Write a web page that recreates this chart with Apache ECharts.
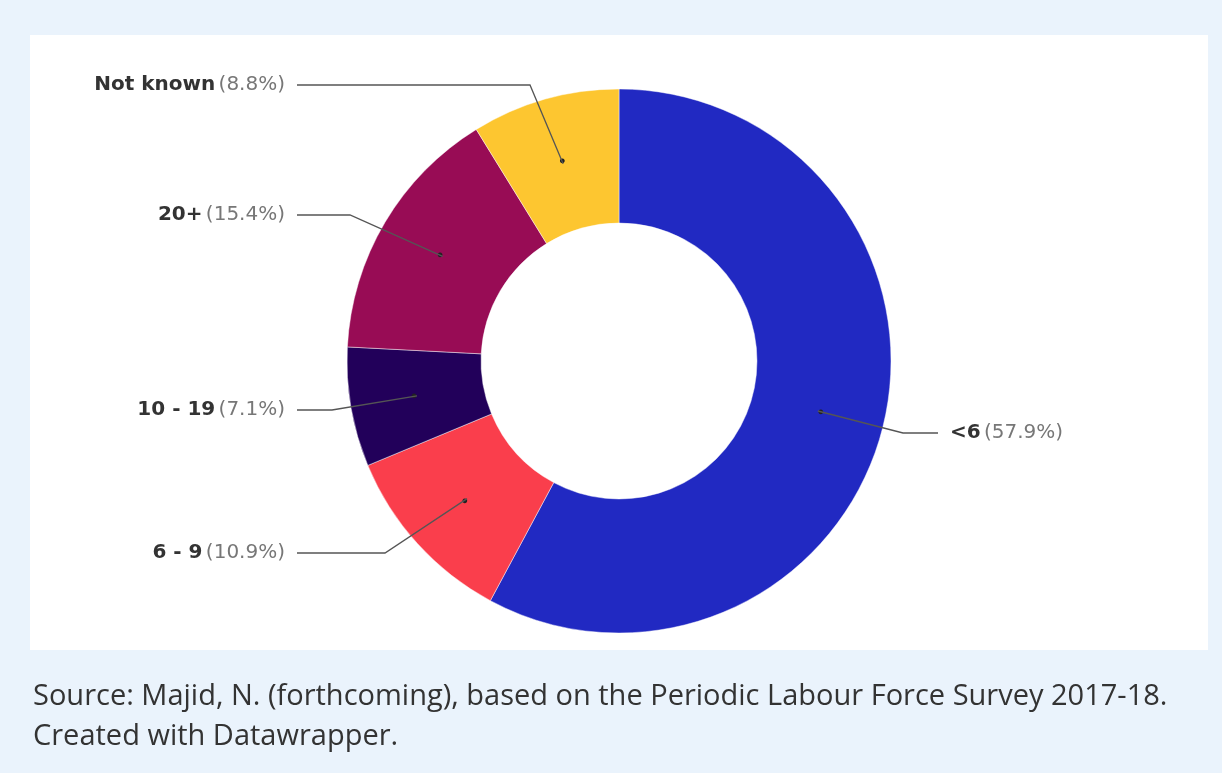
<!DOCTYPE html>
<html>
<head>
<meta charset="utf-8">
<script src="https://cdn.jsdelivr.net/npm/echarts@6/dist/echarts.min.js"></script>
<style>
  html, body { margin: 0; padding: 0; background: #eaf3fc; }
  #chart { width: 1222px; height: 773px; }
</style>
</head>
<body>
<div id="chart"></div>
<script>
const categories = ["<6", "6 - 9", "10 - 19", "20+", "Not known"];
const shares = [57.9, 10.9, 7.1, 15.4, 8.8];
const colors = ["#2129c2", "#fa3e4c", "#22005a", "#980c55", "#fdc630"];
const sourceLines = [
  "Source: Majid, N. (forthcoming), based on the Periodic Labour Force Survey 2017-18.",
  "Created with Datawrapper.",
];

// label placement: anchor of text, where the line ends, elbow point
const labelSpots = [
  { x: 950, y: 433, align: "left", lineEnd: 938, elbowX: 903 },
  { x: 285, y: 553, align: "right", lineEnd: 297, elbowX: 385 },
  { x: 285, y: 410, align: "right", lineEnd: 297, elbowX: 332 },
  { x: 285, y: 215, align: "right", lineEnd: 297, elbowX: 350 },
  { x: 285, y: 85, align: "right", lineEnd: 297, elbowX: 530 },
];

const cx = 619;
const cy = 361;
const innerR = 138;
const outerR = 272;
const midR = (innerR + outerR) / 2;
const total = shares.reduce((a, b) => a + b, 0);

function dotPoint(i) {
  const before = shares.slice(0, i).reduce((a, b) => a + b, 0);
  const theta = ((before + shares[i] / 2) / total) * Math.PI * 2;
  return [cx + midR * Math.sin(theta), cy - midR * Math.cos(theta)];
}

const chart = echarts.init(document.getElementById("chart"), null, { renderer: "canvas" });

chart.setOption({
  backgroundColor: "#eaf3fc",
  animation: false,
  graphic: [
    {
      type: "rect",
      left: 30,
      top: 35,
      shape: { width: 1178, height: 615 },
      style: { fill: "#ffffff" },
      z: -10,
    },
  ],
  title: {
    left: 28,
    top: 672,
    text: sourceLines.join("\n"),
    textStyle: {
      fontFamily: "Open Sans",
      fontSize: 29,
      fontWeight: "normal",
      color: "#333",
      lineHeight: 40,
    },
  },
  series: [
    {
      // coloured ring, with the small dot at the middle of each slice
      type: "pie",
      z: 2,
      center: [cx, cy],
      radius: [innerR, outerR],
      startAngle: 90,
      clockwise: true,
      silent: true,
      itemStyle: { borderColor: "rgba(255,255,255,0.45)", borderWidth: 1 },
      label: {
        show: true,
        position: "inside",
        formatter: "●",
        fontSize: 11,
        color: "#222",
      },
      labelLine: { show: false },
      data: categories.map((name, i) => ({
        name,
        value: shares[i],
        itemStyle: { color: colors[i] },
      })),
    },
    {
      // thin invisible ring at the dots' radius, carrying labels and leader lines
      type: "pie",
      z: 5,
      center: [cx, cy],
      radius: [midR - 0.5, midR + 0.5],
      startAngle: 90,
      clockwise: true,
      silent: true,
      itemStyle: { color: "rgba(0,0,0,0)" },
      label: {
        show: true,
        position: "outside",
        formatter: (p) => `{b|${p.name}} {v|(${p.value.toFixed(1)}%)}`,
        rich: {
          b: { fontFamily: "DejaVu Sans", fontWeight: "bold", fontSize: 20, color: "#333" },
          v: { fontFamily: "DejaVu Sans", fontSize: 20, color: "#777" },
        },
      },
      labelLine: {
        show: true,
        lineStyle: { color: "#555", width: 1.3 },
      },
      labelLayout: (params) => {
        const i = params.dataIndex;
        const spot = labelSpots[i];
        return {
          x: spot.x,
          y: spot.y,
          align: spot.align,
          verticalAlign: "middle",
          labelLinePoints: [dotPoint(i), [spot.elbowX, spot.y], [spot.lineEnd, spot.y]],
        };
      },
      data: categories.map((name, i) => ({ name, value: shares[i] })),
    },
  ],
});
</script>
</body>
</html>
